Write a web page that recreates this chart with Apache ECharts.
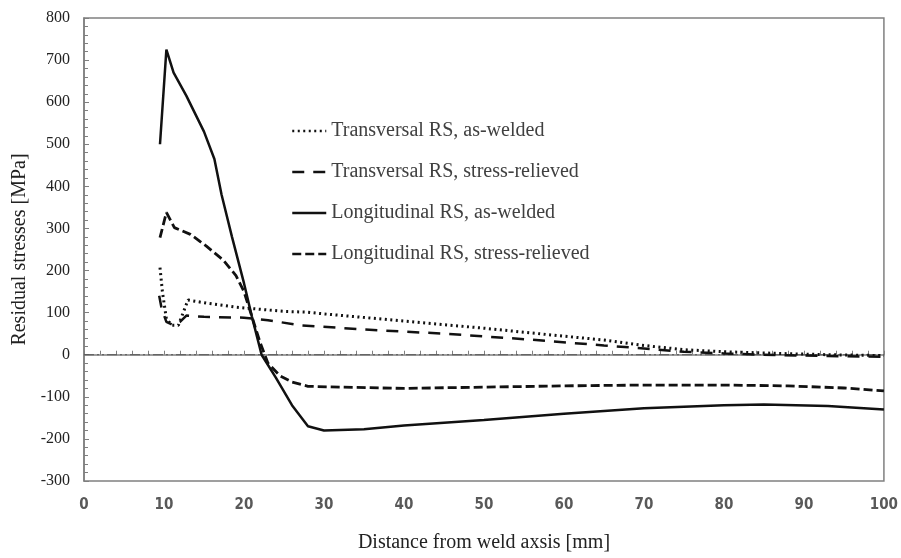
<!DOCTYPE html>
<html lang="en" style="height: 100%">
<head>
    <meta charset="UTF-8">
    <title>Residual stresses</title>
    <script src="https://cdn.jsdelivr.net/npm/echarts@6/dist/echarts.min.js"></script>
</head>
<body style="height: 100%; margin: 0; background: #fff">
    <div id="main" style="width: 901px; height: 558px"></div>
    <script>
        // [distance mm, stress MPa]
        var transAsWelded = [[9.5, 207], [9.8, 150], [10.3, 85], [11, 70], [11.8, 70], [12.4, 100], [13, 130],
            [15.5, 122], [19, 113], [22, 108], [25, 103], [28, 101], [30, 97], [40, 80], [50, 63], [60, 44],
            [65, 35], [70, 22], [75, 12], [80, 7], [87, 3], [93, 0], [100, -2]];
        var transRelieved = [[9.4, 140], [9.7, 110], [10.3, 78], [11.2, 70], [12, 78], [12.8, 93], [15, 90],
            [20, 88], [23, 82], [27, 70], [35, 60], [45, 50], [55, 37], [65, 22], [70, 15], [75, 7], [80, 3],
            [87, -1], [93, -3], [100, -5]];
        var longAsWelded = [[9.5, 500], [10.3, 725], [11.2, 670], [12.8, 615], [15, 530], [16.3, 465], [17.2, 380],
            [18.5, 280], [20, 170], [21, 90], [22.2, 0], [24, -55], [26, -120], [28, -170], [30, -180], [35, -177],
            [40, -168], [50, -155], [60, -140], [70, -127], [80, -120], [85, -118], [93, -122], [100, -130]];
        var longRelieved = [[9.5, 278], [10.3, 338], [11.3, 302], [13.3, 286], [15.3, 258], [17.4, 225], [19, 188],
            [20, 150], [21, 90], [22, 30], [23, -20], [24.5, -50], [26, -65], [28, -75], [32, -77], [40, -80],
            [50, -77], [60, -74], [70, -72], [80, -72], [88, -74], [95, -79], [100, -86]];
        var zeroLine = [[0, 0], [100, 0]];
        var names = ['Transversal RS, as-welded', 'Transversal RS, stress-relieved',
            'Longitudinal RS, as-welded', 'Longitudinal RS, stress-relieved'];

        var serif = '"Liberation Serif", "DejaVu Serif", serif';
        var myChart = echarts.init(document.getElementById('main'));

        var option = {
            animation: false,
            color: ['#111'],
            grid: {
                left: 84, right: 17, top: 18, bottom: 75,
                show: true, borderColor: '#808080', borderWidth: 1.5
            },
            legend: {
                data: names,
                orient: 'vertical',
                left: 291, top: 121, padding: 0,
                itemWidth: 34, itemHeight: 14, itemGap: 21,
                itemStyle: { opacity: 0 },
                lineStyle: { width: 2.5 },
                textStyle: { fontFamily: serif, fontSize: 20, color: '#404040' }
            },
            xAxis: {
                type: 'value', min: 0, max: 100, interval: 10,
                name: 'Distance from weld axsis [mm]',
                nameLocation: 'middle', nameGap: 52,
                nameTextStyle: { fontFamily: serif, fontSize: 20, color: '#222' },
                axisLine: { lineStyle: { color: '#7f7f7f', width: 1.5 } },
                axisTick: { inside: true, length: 4, lineStyle: { color: '#7f7f7f' } },
                minorTick: { show: true, splitNumber: 5, length: 4, lineStyle: { color: '#7f7f7f' } },
                axisLabel: {
                    margin: 17,
                    fontFamily: '"Liberation Sans Narrow", "DejaVu Sans Condensed", sans-serif',
                    fontWeight: 'bold', fontSize: 15, color: '#595959'
                },
                splitLine: { show: false }
            },
            yAxis: {
                type: 'value', min: -300, max: 800, interval: 100,
                name: 'Residual stresses [MPa]',
                nameLocation: 'middle', nameGap: 52,
                nameTextStyle: { fontFamily: serif, fontSize: 20, color: '#222' },
                axisLine: { show: true, lineStyle: { color: '#7f7f7f', width: 1.5 } },
                axisTick: { show: true, inside: true, length: 5, lineStyle: { color: '#7f7f7f' } },
                minorTick: { show: true, splitNumber: 5, length: 4, lineStyle: { color: '#7f7f7f' } },
                axisLabel: { margin: 14, fontFamily: serif, fontSize: 16, color: '#222' },
                splitLine: { show: false }
            },
            series: [
                {
                    name: 'zero', type: 'line', data: zeroLine, symbol: 'none', silent: true,
                    lineStyle: { color: '#555', width: 1, type: [10, 3, 2, 3, 2, 3] }
                },
                {
                    name: names[0], type: 'line', data: transAsWelded, symbol: 'none',
                    lineStyle: { color: '#111', width: 3, type: [2, 3.5] }
                },
                {
                    name: names[1], type: 'line', data: transRelieved, symbol: 'none',
                    lineStyle: { color: '#111', width: 2.5, type: [12, 9] }
                },
                {
                    name: names[2], type: 'line', data: longAsWelded, symbol: 'none',
                    lineStyle: { color: '#111', width: 2.5 }
                },
                {
                    name: names[3], type: 'line', data: longRelieved, symbol: 'none',
                    lineStyle: { color: '#111', width: 2.8, type: [9, 4] }
                }
            ]
        };

        myChart.setOption(option);
        window.addEventListener('resize', myChart.resize);
    </script>
</body>
</html>
